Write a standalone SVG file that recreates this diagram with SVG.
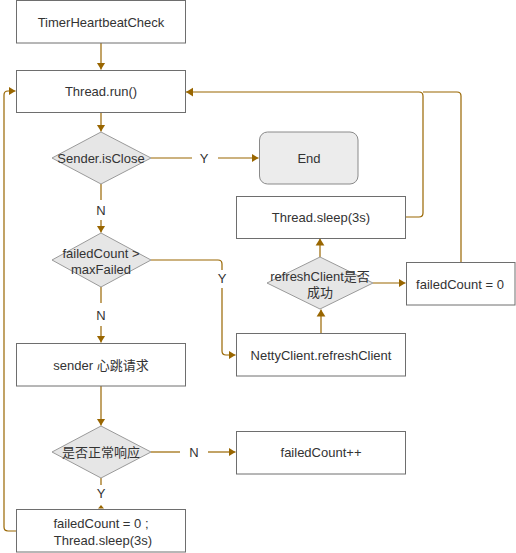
<svg xmlns="http://www.w3.org/2000/svg" width="516" height="553" viewBox="0 0 516 553">
  <style>
    .box { fill: #ffffff; stroke: #6e6e6e; stroke-width: 1; }
    .dia { fill: #e6e6e6; stroke: #9a9a9a; stroke-width: 1; }
    .term { fill: #ececec; stroke: #8a8a8a; stroke-width: 1; }
    .txt { font-family: "Liberation Sans", Arial, "Noto Sans CJK SC", sans-serif; font-size: 13px; fill: #333333; text-anchor: middle; }
    .edge { fill: none; stroke: #996600; stroke-width: 1.2; }
    .lbl { font-family: "Liberation Sans", Arial, sans-serif; font-size: 13px; fill: #333333; text-anchor: middle; }
  </style>
  <defs>
    <marker id="arrow" viewBox="0 0 8 10" refX="8" refY="5" markerWidth="7" markerHeight="10" markerUnits="userSpaceOnUse" orient="auto">
      <path d="M0,0 L8,5 L0,10 z" fill="#996600"/>
    </marker>
  </defs>

  <rect width="516" height="553" fill="#ffffff"/>

  <!-- connectors -->
  <g id="connectors">
    <path class="edge" d="M101,43 V69.5" marker-end="url(#arrow)"/>
    <path class="edge" d="M101,112 V131.5" marker-end="url(#arrow)"/>
    <path class="edge" d="M151,158 H192"/>
    <path class="edge" d="M218,158 H258.5" marker-end="url(#arrow)"/>
    <path class="edge" d="M101,184 V200"/>
    <path class="edge" d="M101,220 V232.5" marker-end="url(#arrow)"/>
    <path class="edge" d="M151,260 H218 Q222,260 222,264 V270"/>
    <path class="edge" d="M222,288 V351 Q222,355 226,355 H235.5" marker-end="url(#arrow)"/>
    <path class="edge" d="M101,287 V303"/>
    <path class="edge" d="M101,326 V342.5" marker-end="url(#arrow)"/>
    <path class="edge" d="M101,386 V425.5" marker-end="url(#arrow)"/>
    <path class="edge" d="M151,452 H180"/>
    <path class="edge" d="M208,452 H235.5" marker-end="url(#arrow)"/>
    <path class="edge" d="M101,478 V485"/>
    <path d="M98,508.5 L101,505 L104,508.5 z" fill="#996600"/>
    <path class="edge" d="M16,531 H8 Q4,531 4,527 V95 Q4,91 8,91 H15.5" marker-end="url(#arrow)"/>
    <path class="edge" d="M320,257 V238.5" marker-end="url(#arrow)"/>
    <path class="edge" d="M321,333 V309.5" marker-end="url(#arrow)"/>
    <path class="edge" d="M373,283 H405.5" marker-end="url(#arrow)"/>
    <path class="edge" d="M406,217 H419 Q423,217 423,213 V96 Q423,92 419,92 H186" marker-end="url(#arrow)"/>
    <path class="edge" d="M461,262 V96 Q461,92 457,92 H423"/>
    <text class="lbl" x="204" y="163">Y</text>
    <text class="lbl" x="101" y="215">N</text>
    <text class="lbl" x="222" y="283">Y</text>
    <text class="lbl" x="101" y="320">N</text>
    <text class="lbl" x="194" y="457">N</text>
    <text class="lbl" x="101" y="498">Y</text>
  </g>

  <g id="timer">
    <rect class="box" x="16.5" y="0.5" width="169" height="42.5"/>
    <text class="txt" x="101" y="27">TimerHeartbeatCheck</text>
  </g>
  <g id="run">
    <rect class="box" x="16.5" y="70.5" width="169" height="42"/>
    <text class="txt" x="101" y="96">Thread.run()</text>
  </g>
  <g id="isClose">
    <polygon class="dia" points="101,132 151,158 101,184 52,158"/>
    <text class="txt" x="101" y="163">Sender.isClose</text>
  </g>
  <g id="end">
    <rect class="term" x="259.5" y="132" width="98.5" height="52" rx="8"/>
    <text class="txt" x="309" y="163">End</text>
  </g>
  <g id="maxFailed">
    <polygon class="dia" points="101,233 151,260 101,287 52,260"/>
    <text class="txt" x="101" y="258">failedCount &gt;</text>
    <text class="txt" x="101" y="274">maxFailed</text>
  </g>
  <g id="sender">
    <rect class="box" x="16.5" y="343.5" width="169" height="42.5"/>
    <text class="txt" x="101" y="370">sender 心跳请求</text>
  </g>
  <g id="normal">
    <polygon class="dia" points="101,426 151,452 101,478 52,452"/>
    <text class="txt" x="101" y="457">是否正常响应</text>
  </g>
  <g id="reset">
    <rect class="box" x="16.5" y="509.5" width="169" height="42.5"/>
    <text class="txt" x="101" y="528">failedCount = 0 ;</text>
    <text class="txt" x="103" y="545">Thread.sleep(3s)</text>
  </g>
  <g id="sleep">
    <rect class="box" x="236.5" y="196.5" width="169" height="42"/>
    <text class="txt" x="321" y="222">Thread.sleep(3s)</text>
  </g>
  <g id="refreshOk">
    <polygon class="dia" points="320,257 373,283 320,309 267,283"/>
    <text class="txt" x="320" y="281">refreshClient是否</text>
    <text class="txt" x="320" y="297">成功</text>
  </g>
  <g id="zero">
    <rect class="box" x="406.5" y="262.5" width="108.5" height="42.5"/>
    <text class="txt" x="460" y="289">failedCount = 0</text>
  </g>
  <g id="netty">
    <rect class="box" x="236.5" y="333.5" width="169" height="42.5"/>
    <text class="txt" x="321" y="360">NettyClient.refreshClient</text>
  </g>
  <g id="inc">
    <rect class="box" x="236.5" y="431.5" width="169" height="42.5"/>
    <text class="txt" x="321" y="457">failedCount++</text>
  </g>
</svg>
